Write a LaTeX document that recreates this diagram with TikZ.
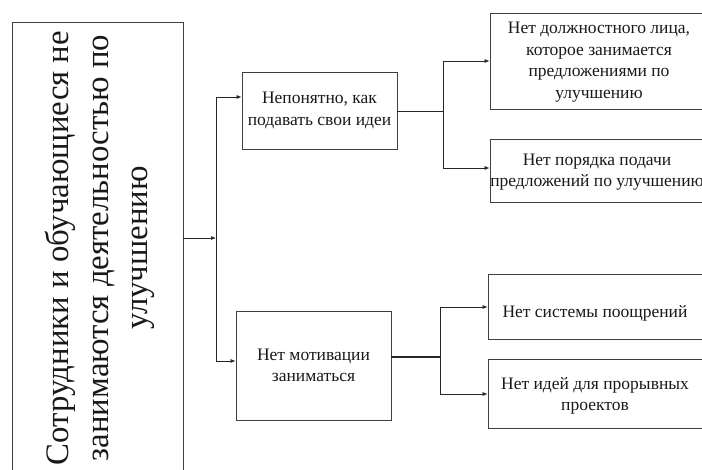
\documentclass[tikz,border=0pt]{standalone}
\usepackage{fontspec}
\setmainfont{LiberationSerif}[Extension=.ttf, UprightFont=*-Regular, BoldFont=*-Bold]
\usetikzlibrary{arrows.meta}
\begin{document}
\begin{tikzpicture}[x=1pt,y=-1pt,
  box/.style={draw=black!75, line width=0.8pt, rectangle, inner sep=0pt, align=center},
  txt/.style={font=\fontsize{17.5}{21.5}\selectfont, text=black!90, align=center, inner sep=0pt},
  conn/.style={draw=black!85, line width=0.7pt},
  arr/.style={conn, -{Latex[length=5pt,width=4pt]}}]
\useasboundingbox (0,0) rectangle (702,470);
% main box
\node[box, minimum width=171pt, minimum height=470pt] (main) at (97.5,257) {};
\node[rotate=90, inner sep=0pt, align=center, text=black!90,
  font=\fontsize{32.8}{39.5}\selectfont] (maintext) at (100,248)
  {Сотрудники и обучающиеся не\\занимаются деятельностью по\\улучшению};
% level 1 boxes
\node[box, minimum width=155pt, minimum height=77pt] (b1) at (319.5,110.5) {};
\node[txt] (b1t) at (b1) {Непонятно, как\\подавать свои идеи};
\node[box, minimum width=155pt, minimum height=109pt] (b2) at (313.5,365.5) {};
\node[txt] (b2t) at (b2) {Нет мотивации\\заниматься};
% level 2 boxes
\node[box, minimum width=222pt, minimum height=96pt] (a) at (601,61) {};
\node[txt] (at) at (599,62) {Нет должностного лица,\\которое занимается\\предложениями по\\улучшению};
\node[box, minimum width=222pt, minimum height=63pt] (b) at (601,170.5) {};
\node[txt] (bt) at (597,172) {Нет порядка подачи\\предложений по улучшению};
\node[box, minimum width=224pt, minimum height=65pt] (c) at (600,306.5) {};
\node[txt] (ct) at (595,313) {Нет системы поощрений};
\node[box, minimum width=224pt, minimum height=69pt] (d) at (600,393.5) {};
\node[txt] (dt) at (595,396) {Нет идей для прорывных\\проектов};
% connectors
\coordinate (j0) at (216,238);
\coordinate (j1) at (216,97);
\coordinate (j2) at (216,361);
\draw[arr] (main.east |- j0) -- (j0);
\draw[conn] (j1) -- (j2);
\draw[arr] (j1) -- (b1.west |- j1);
\draw[arr] (j2) -- (b2.west |- j2);
\coordinate (k0) at (443,111);
\coordinate (k1) at (443,61);
\coordinate (k2) at (443,168);
\draw[conn] (b1.east |- k0) -- (k0);
\draw[conn] (k1) -- (k2);
\draw[arr] (k1) -- (a.west |- k1);
\draw[arr] (k2) -- (b.west |- k2);
\coordinate (m0) at (440,357);
\coordinate (m1) at (440,307);
\coordinate (m2) at (440,394);
\draw[conn, line width=1.6pt] (b2.east |- m0) -- (m0);
\draw[conn] (m1) -- (m2);
\draw[arr] (m1) -- (c.west |- m1);
\draw[arr] (m2) -- (d.west |- m2);
\end{tikzpicture}
\end{document}
